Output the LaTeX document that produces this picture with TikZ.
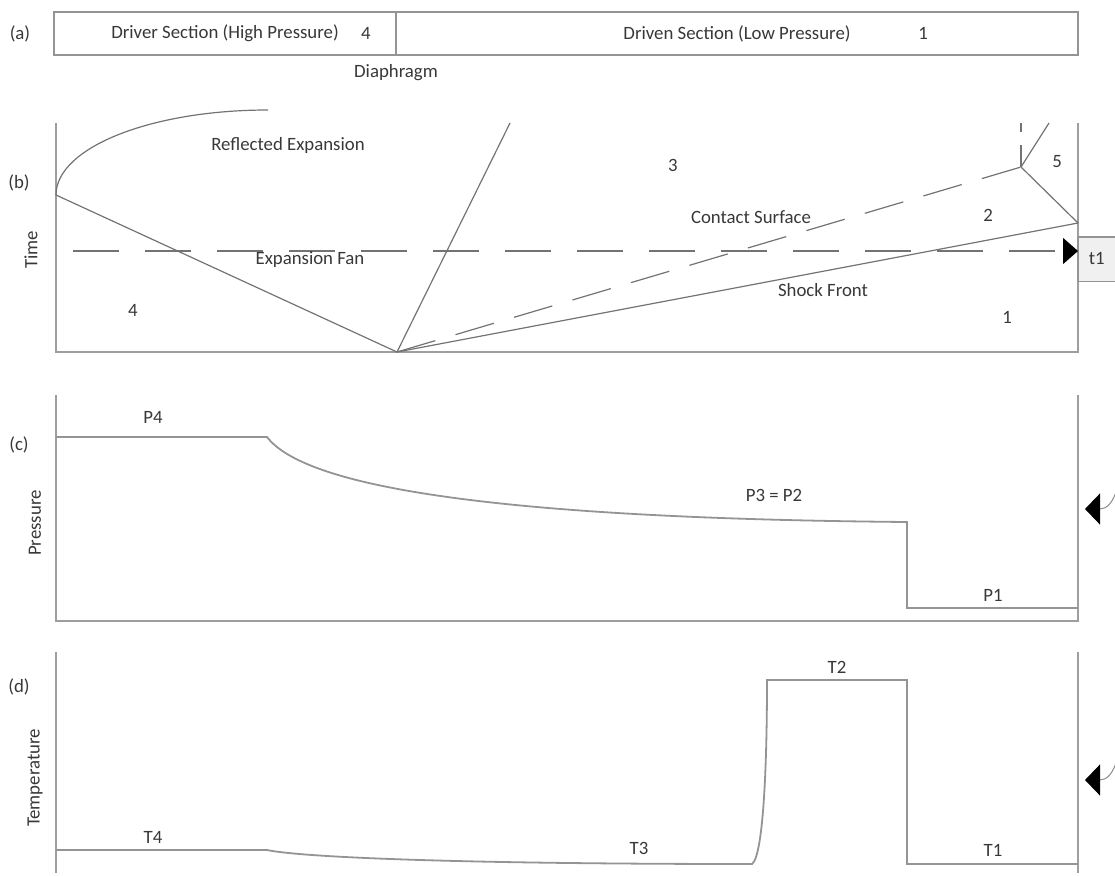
\documentclass[tikz,border=0pt]{standalone}
\usepackage{fontspec}
\setmainfont{Carlito}
\usepackage{tikz}
\usetikzlibrary{positioning,arrows.meta,calc}

\begin{document}
\begin{tikzpicture}[
  x=1pt, y=-1pt,
  font=\fontsize{18.8pt}{22pt}\selectfont,
  lbl/.style   = {text=black!78, inner sep=0pt},
  sect/.style  = {draw=black!42, line width=1.6pt, fill=white, inner sep=0pt,
                  outer sep=0pt, text=black!78, minimum height=43pt},
  axis/.style  = {draw=black!38, line width=2pt},
  wave/.style  = {draw=black!55, line width=1.2pt},
  prof/.style  = {draw=black!42, line width=1.8pt},
  fan/.style   = {wave, dash pattern=on 46pt off 26pt},
  cont/.style  = {wave, dash pattern=on 40pt off 21pt},
  tbox/.style  = {fill=black!6, inner sep=0pt, text=black!78,
                  minimum width=37pt, minimum height=44pt},
  hd/.style    = {-{Triangle[length=15pt, width=26pt, color=black]}},
  bent/.style  = {draw=black!45, line width=1pt,
                  -{Triangle[length=15pt, width=31pt, color=black]}}
]
\useasboundingbox (0,0) rectangle (1115,875);

% ---- (a) the tube ---------------------------------------------------------
\node[sect, minimum width=342pt] (driver) at (225,33.5)
  {Driver Section (High Pressure)};
\node[sect, right=0pt of driver, minimum width=682pt] (driven)
  {Driven Section (Low Pressure)};
\node[lbl] (a4) at (366,33.5) {4};
\node[lbl] (a1) at (923,33.5) {1};
\node[lbl] (diaph) at (396,73) {Diaphragm};
\node[lbl] (pa) at (20,34) {(a)};

% ---- (b) wave diagram -----------------------------------------------------
\coordinate (dia) at (397,352);
\coordinate (wall4) at (56,195);
\coordinate (refl) at (1078,223);
\coordinate (kink) at (1021,167);
\draw[axis] (56,123) -- (56,352) -- (1078,352) -- (1078,123);

\draw[wave] (wall4) -- (dia);
\draw[wave] (dia) -- (510,123);
\draw[wave] (wall4) .. controls (56,148) and (150,110) .. (268,110);
\draw[wave] (dia) -- (refl);
\draw[cont] (dia) -- (kink);
\draw[wave] (kink) -- (refl);
\draw[wave] (kink) -- (1049,123);
\draw[wave, dash pattern=on 22pt off 13pt] (kink) -- (1021,123);

\node[tbox, anchor=west] (t1) at (1078,259) {t1};
\draw[draw=black!42, line width=1.4pt]
  (t1.north east) -- (t1.north west) -- (t1.south west) -- (t1.south east);
\coordinate (fan0) at (73,251);
\draw[fan, hd] (fan0) -- (fan0 -| t1.west);

\node[lbl] (reflexp) at (288,145) {Reflected Expansion};
\node[lbl] (expfan) at (310,260) {Expansion Fan};
\node[lbl] (b4) at (133,310) {4};
\node[lbl] (b3) at (673,165) {3};
\node[lbl] (contact) at (751,217) {Contact Surface};
\node[lbl] (b2) at (988,215) {2};
\node[lbl] (b5) at (1057,162) {5};
\node[lbl] (shock) at (823,290) {Shock Front};
\node[lbl] (b1) at (1007,317) {1};
\node[lbl] (pb) at (19,183) {(b)};
\node[lbl, rotate=90] (time) at (31,250) {Time};

% ---- (c) pressure ---------------------------------------------------------
\draw[axis] (56,395) -- (56,621) -- (1078,621) -- (1078,395);
\draw[prof] (56,437) -- (267,437) .. controls (300,480) and (450,518) .. (907,522)
  -- (907,608) -- (1078,608);

\coordinate (ptail) at (1118,486);
\draw[bent] (ptail) .. controls (1113,503) and (1107,509) .. (1085,509);

\node[lbl] (p4) at (153,417) {P4};
\node[lbl] (p32) at (774,495) {P3 = P2};
\node[lbl] (p1) at (993,595) {P1};
\node[lbl] (pc) at (19,445) {(c)};
\node[lbl, rotate=90] (press) at (35,523) {Pressure};

% ---- (d) temperature ------------------------------------------------------
\draw[axis] (56,652) -- (56,873);
\draw[axis] (1078,652) -- (1078,873);
\draw[prof] (56,850) -- (267,850) .. controls (300,857) and (450,864) .. (752,864)
  .. controls (763,856) and (767,770) .. (767,680) -- (907,680) -- (907,864)
  -- (1078,864);

\coordinate (ttail) at (1118,757);
\draw[bent] (ttail) .. controls (1113,774) and (1107,780) .. (1085,780);

\node[lbl] (t2) at (837,667) {T2};
\node[lbl] (t3) at (639,848) {T3};
\node[lbl] (t4) at (153,837) {T4};
\node[lbl] (t1l) at (993,850) {T1};
\node[lbl] (pd) at (19,687) {(d)};
\node[lbl, rotate=90] (temp) at (35,778) {Temperature};

\end{tikzpicture}
\end{document}
